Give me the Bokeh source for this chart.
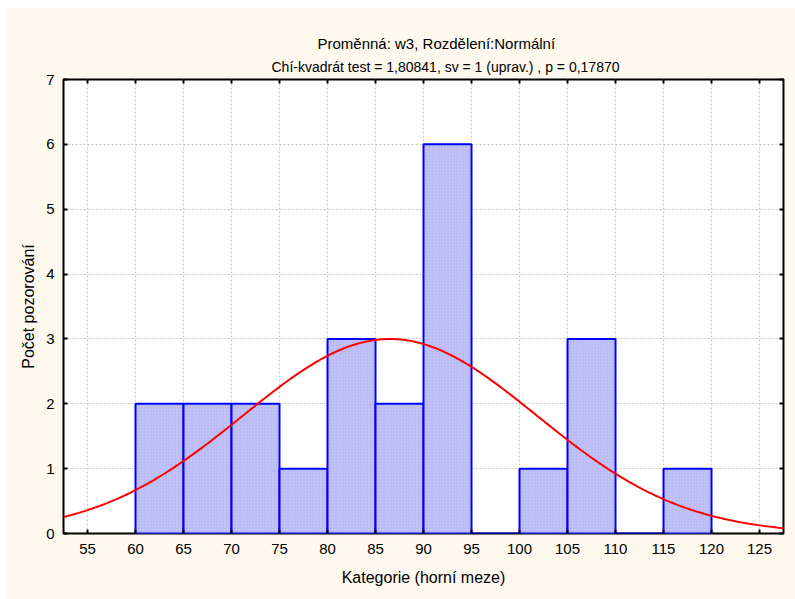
import numpy as np
from bokeh.plotting import figure
from bokeh.models import (FixedTicker, LinearAxis, Title, Range1d, Spacer, ColumnDataSource)
from bokeh.layouts import column, row
from bokeh.embed import file_html
from bokeh.resources import INLINE

# ---- data ----
bin_lower = [60, 65, 70, 75, 80, 85, 90, 95, 100, 105, 110, 115]
bin_width = 5
counts = [2, 2, 2, 1, 3, 2, 6, 0, 1, 3, 0, 1]
x_ticks = [55, 60, 65, 70, 75, 80, 85, 90, 95, 100, 105, 110, 115, 120, 125]
y_ticks = [0, 1, 2, 3, 4, 5, 6, 7]
fit_mean = 86.5
fit_sd = 15.3
n_obs = 23

title1 = "Proměnná: w3, Rozdělení:Normální"
title2 = "Chí-kvadrát test = 1,80841, sv = 1 (uprav.) , p = 0,17870"
x_label = "Kategorie (horní meze)"
y_label = "Počet pozorování"

FONT = "Liberation Sans"
CREAM = "#fdf9ee"

p = figure(width=790, height=592, output_backend="svg", toolbar_location=None,
           x_range=Range1d(52.5, 127.5), y_range=Range1d(0, 7),
           min_border_left=58, min_border_right=12, min_border_top=72, min_border_bottom=66,
           background_fill_color="white", border_fill_color=CREAM)
p.outline_line_color = "black"
p.outline_line_width = 2

# bars
left = [b for b in bin_lower]
right = [b + bin_width for b in bin_lower]
src = ColumnDataSource(dict(left=left, right=right, top=counts, bottom=[0] * len(counts)))
p.quad(left="left", right="right", top="top", bottom="bottom", source=src,
       fill_color="#c9c9f9", line_color="#0000ff", line_width=2,
       hatch_pattern="/", hatch_color="#a6a6ee", hatch_scale=3, hatch_weight=0.6)

# fitted normal curve
xs = np.linspace(52.5, 127.5, 300)
ys = n_obs * bin_width / (fit_sd * np.sqrt(2 * np.pi)) * np.exp(-0.5 * ((xs - fit_mean) / fit_sd) ** 2)
p.line(xs, ys, line_color="#ff0000", line_width=2)

# axes
for ax in (p.xaxis[0], p.yaxis[0]):
    ax.major_tick_in = 4
    ax.major_tick_out = 0
    ax.minor_tick_line_color = None
    ax.axis_line_color = None
    ax.major_tick_line_color = "black"
    ax.major_tick_line_width = 2
    ax.major_label_text_font = FONT
    ax.major_label_text_font_size = "15px"
    ax.major_label_text_color = "black"
    ax.axis_label_text_font = FONT
    ax.axis_label_text_font_size = "16px"
    ax.axis_label_text_font_style = "normal"
    ax.axis_label_text_color = "black"

p.xaxis[0].ticker = FixedTicker(ticks=x_ticks)
p.yaxis[0].ticker = FixedTicker(ticks=y_ticks)
p.xaxis[0].axis_label = x_label
p.yaxis[0].axis_label = y_label
p.xaxis[0].major_label_standoff = 10
p.yaxis[0].major_label_standoff = 9
p.xaxis[0].axis_label_standoff = 12
p.yaxis[0].axis_label_standoff = 6

top_ax = LinearAxis(ticker=FixedTicker(ticks=x_ticks), major_label_text_font_size="1px",
                    major_label_text_color=None, major_label_standoff=5,
                    major_tick_in=4, major_tick_out=0, minor_tick_line_color=None,
                    axis_line_color=None, major_tick_line_width=2)
right_ax = LinearAxis(ticker=FixedTicker(ticks=y_ticks), major_label_text_font_size="1px",
                      major_label_text_color=None, major_label_standoff=0,
                      major_tick_in=4, major_tick_out=0, minor_tick_line_color=None,
                      axis_line_color=None, major_tick_line_width=2)
p.add_layout(top_ax, "above")
p.add_layout(right_ax, "right")

# grid
p.xgrid.ticker = FixedTicker(ticks=x_ticks)
p.ygrid.ticker = FixedTicker(ticks=y_ticks)
for g in (p.xgrid[0], p.ygrid[0]):
    g.grid_line_color = "#c8c8c8"
    g.grid_line_dash = "2 2"
    g.grid_line_width = 1

# titles (outer line first, inner line added next to the frame)
p.title = Title(text=title1, align="left", offset=254, text_font=FONT,
                text_font_size="15px", text_font_style="normal", text_color="black",
                text_line_height=0.9, standoff=0)
p.add_layout(Title(text=title2, align="left", offset=208, text_font=FONT,
                   text_font_size="14px", text_font_style="normal", text_color="black",
                   text_line_height=0.9, standoff=10), "above")

layout = column(Spacer(height=7), row(Spacer(width=5), p), spacing=0)
open("out.html", "w").write(file_html(layout, INLINE))
